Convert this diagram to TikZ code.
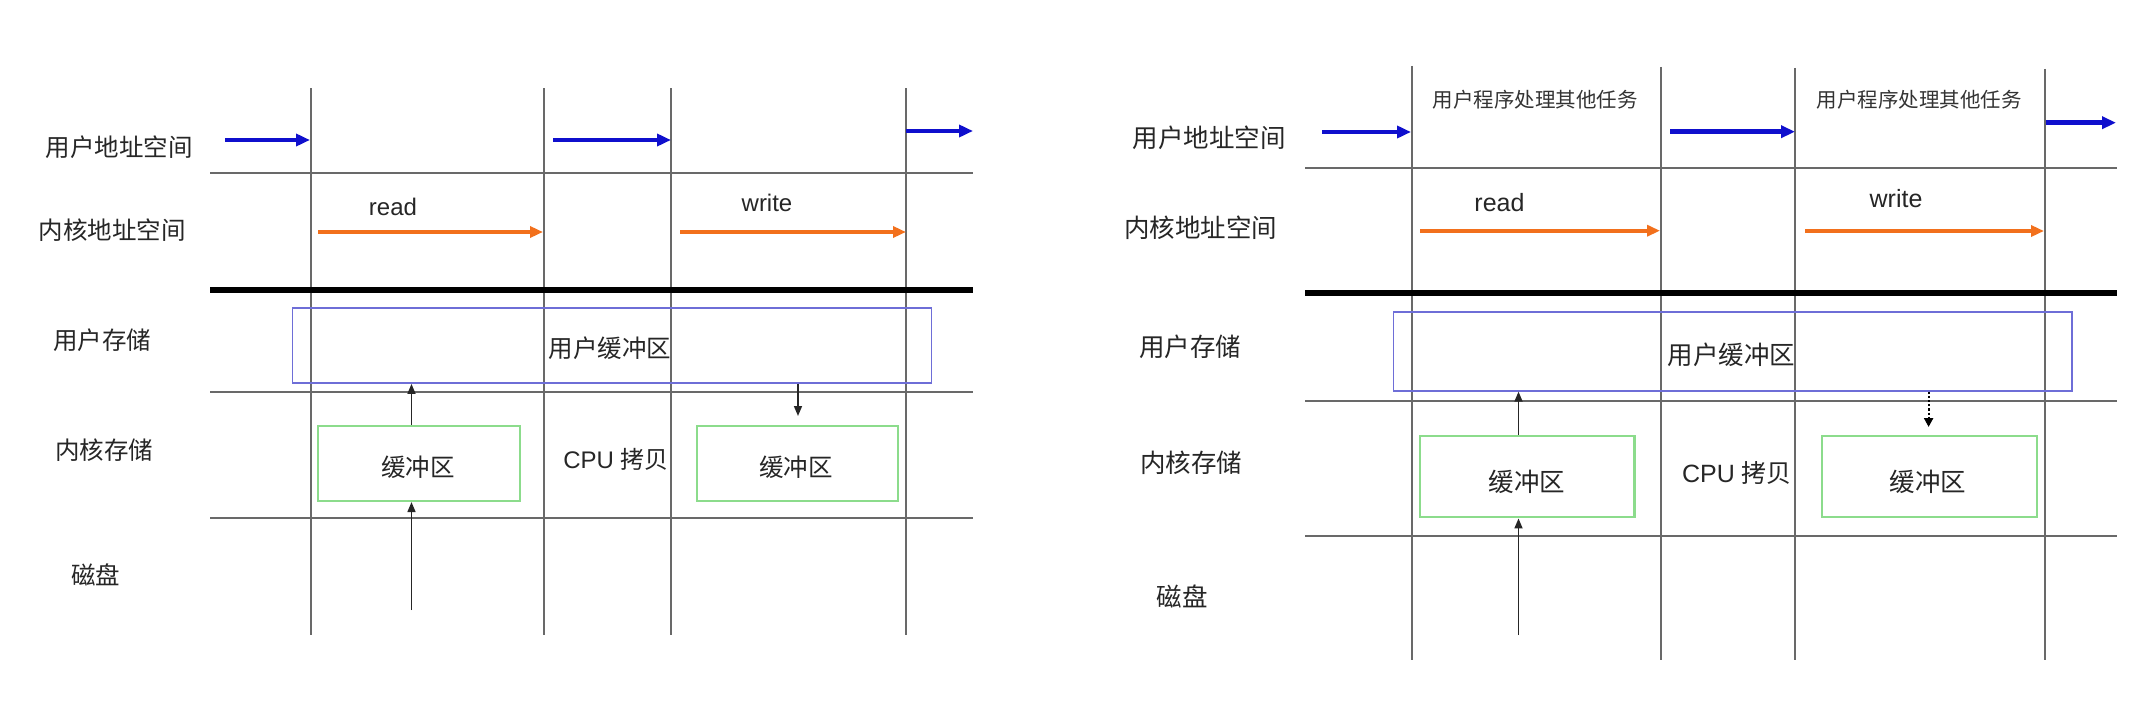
\documentclass[tikz,border=0pt]{standalone}
\usepackage{fontspec}
\setmainfont{Liberation Sans}
\newfontfamily\cjk{Noto Sans CJK SC}
\usetikzlibrary{arrows.meta}
\definecolor{gridc}{RGB}{105,105,105}
\definecolor{ublue}{RGB}{15,15,205}
\definecolor{korange}{RGB}{242,112,28}
\definecolor{boxblue}{RGB}{110,110,215}
\definecolor{boxgreen}{RGB}{140,220,140}
\begin{document}
\begin{tikzpicture}[x=1pt,y=-1pt,
  gridline/.style={draw=gridc,line width=2pt},
  kline/.style={draw=black,line width=5.5pt},
  uarrow/.style={draw=ublue,line width=4.5pt,-{Triangle[length=14pt,width=12pt]}},
  karrow/.style={draw=korange,line width=4pt,-{Triangle[length=13pt,width=11pt]}},
  smallarrow/.style={draw=black!85,line width=1.6pt,-{Triangle[length=10pt,width=8pt]}},
  dotarrow/.style={draw=black,line width=2.2pt,dotted,-{Triangle[length=9pt,width=9pt]}},
  labL/.style={font=\cjk\fontsize{24.5}{24.5}\selectfont,inner sep=0pt,text=black!85},
  labR/.style={font=\cjk\fontsize{25.5}{25.5}\selectfont,inner sep=0pt,text=black!85},
  latL/.style={font=\fontsize{24}{24}\selectfont,inner sep=0pt,text=black!85},
  latR/.style={font=\fontsize{25}{25}\selectfont,inner sep=0pt,text=black!85},
  taskR/.style={font=\cjk\fontsize{20.5}{20.5}\selectfont,inner sep=0pt,text=black!80},
  ubox/.style={draw=boxblue,line width=1.8pt,inner sep=0pt,rectangle},
  gbox/.style={draw=boxgreen,line width=2.2pt,inner sep=0pt,rectangle}
]
\fill[white] (0,0) rectangle (2150,701);
\useasboundingbox (0,0) rectangle (2150,701);

% ================= LEFT PANEL =================
% grid
\coordinate (LV1t) at (311,88);  \coordinate (LV1b) at (311,635);
\coordinate (LV2t) at (544,88);  \coordinate (LV2b) at (544,635);
\coordinate (LV3t) at (671,88);  \coordinate (LV3b) at (671,635);
\coordinate (LV4t) at (906,88);  \coordinate (LV4b) at (906,635);
\coordinate (LH1l) at (210,173); \coordinate (LH1r) at (973,173);
\coordinate (LH2l) at (210,392); \coordinate (LH2r) at (973,392);
\coordinate (LH3l) at (210,518); \coordinate (LH3r) at (973,518);
\coordinate (LKl) at (210,290);  \coordinate (LKr) at (973,290);
\draw[gridline] (LV1t) -- (LV1b);
\draw[gridline] (LV2t) -- (LV2b);
\draw[gridline] (LV3t) -- (LV3b);
\draw[gridline] (LV4t) -- (LV4b);
\draw[gridline] (LH1l) -- (LH1r);
\draw[gridline] (LH2l) -- (LH2r);
\draw[gridline] (LH3l) -- (LH3r);
\draw[kline] (LKl) -- (LKr);

% row labels
\node[labL] (Lr1) at (119,147) {用户地址空间};
\node[labL] (Lr2) at (112,230) {内核地址空间};
\node[labL] (Lr3) at (102,340) {用户存储};
\node[labL] (Lr4) at (104,450) {内核存储};
\node[labL] (Lr5) at (95.5,575) {磁盘};

% user-space arrows
\coordinate (LB1s) at (225,140); \coordinate (LB1e) at (310,140);
\coordinate (LB2s) at (553,140); \coordinate (LB2e) at (671,140);
\coordinate (LB3s) at (906,131); \coordinate (LB3e) at (973,131);
\draw[uarrow] (LB1s) -- (LB1e);
\draw[uarrow] (LB2s) -- (LB2e);
\draw[uarrow] (LB3s) -- (LB3e);

% kernel-space arrows
\coordinate (LO1s) at (318,232); \coordinate (LO1e) at (543,232);
\coordinate (LO2s) at (680,232); \coordinate (LO2e) at (906,232);
\draw[karrow] (LO1s) -- (LO1e);
\draw[karrow] (LO2s) -- (LO2e);
\node[latL] (Lread) at (393,207) {read};
\node[latL] (Lwrite) at (767,203) {write};

% boxes
\node[ubox,minimum width=639pt,minimum height=75pt] (Lub) at (612,345.5) {};
\node[labL] (Lubt) at (610,348) {用户缓冲区};
\node[gbox,minimum width=202pt,minimum height=75pt] (Lg1) at (419,463.5) {};
\node[labL] (Lg1t) at (418,467) {缓冲区};
\node[gbox,minimum width=201pt,minimum height=75pt] (Lg2) at (797.5,463.5) {};
\node[labL] (Lg2t) at (796,467) {缓冲区};
\node[latL] (Lcpu) at (616,459) {CPU {\cjk 拷贝}};

% small arrows
\coordinate (Lax) at (411.5,610);
\coordinate (Ldx) at (798,416);
\draw[smallarrow] (Lg1.north -| Lax) -- (Lub.south -| Lax);
\draw[smallarrow] (Lax) -- (Lg1.south -| Lax);
\draw[smallarrow] (Lub.south -| Ldx) -- (Ldx);

% ================= RIGHT PANEL =================
\coordinate (RV1t) at (1411.5,66); \coordinate (RV1b) at (1411.5,660);
\coordinate (RV2t) at (1661,67);   \coordinate (RV2b) at (1661,660);
\coordinate (RV3t) at (1794.5,68); \coordinate (RV3b) at (1794.5,660);
\coordinate (RV4t) at (2045,69);   \coordinate (RV4b) at (2045,660);
\coordinate (RH1l) at (1305,167.7); \coordinate (RH1r) at (2117,167.7);
\coordinate (RH2l) at (1305,401);   \coordinate (RH2r) at (2117,401);
\coordinate (RH3l) at (1305,535.7); \coordinate (RH3r) at (2117,535.7);
\coordinate (RKl) at (1305,293);    \coordinate (RKr) at (2117,293);
\draw[gridline] (RV1t) -- (RV1b);
\draw[gridline] (RV2t) -- (RV2b);
\draw[gridline] (RV3t) -- (RV3b);
\draw[gridline] (RV4t) -- (RV4b);
\draw[gridline] (RH1l) -- (RH1r);
\draw[gridline] (RH2l) -- (RH2r);
\draw[gridline] (RH3l) -- (RH3r);
\draw[kline] (RKl) -- (RKr);

% row labels
\node[labR] (Rr1) at (1209,138) {用户地址空间};
\node[labR] (Rr2) at (1200.6,228) {内核地址空间};
\node[labR] (Rr3) at (1190,346.7) {用户存储};
\node[labR] (Rr4) at (1191,463) {内核存储};
\node[labR] (Rr5) at (1182,596.7) {磁盘};

% task labels
\node[taskR] (Rt1) at (1535,100) {用户程序处理其他任务};
\node[taskR] (Rt2) at (1919,100) {用户程序处理其他任务};

% user-space arrows
\coordinate (RB1s) at (1322,132);   \coordinate (RB1e) at (1411,132);
\coordinate (RB2s) at (1670,131.7); \coordinate (RB2e) at (1795,131.7);
\coordinate (RB3s) at (2046,122.7); \coordinate (RB3e) at (2116,122.7);
\draw[uarrow] (RB1s) -- (RB1e);
\draw[uarrow] (RB2s) -- (RB2e);
\draw[uarrow] (RB3s) -- (RB3e);

% kernel-space arrows
\coordinate (RO1s) at (1420,230.7); \coordinate (RO1e) at (1660,230.7);
\coordinate (RO2s) at (1805,231);   \coordinate (RO2e) at (2044,231);
\draw[karrow] (RO1s) -- (RO1e);
\draw[karrow] (RO2s) -- (RO2e);
\node[latR] (Rread) at (1499.5,203) {read};
\node[latR] (Rwrite) at (1896,199) {write};

% boxes
\node[ubox,minimum width=678.4pt,minimum height=79pt] (Rub) at (1732.6,351.2) {};
\node[labR] (Rubt) at (1731.5,355) {用户缓冲区};
\node[gbox,minimum width=214.8pt,minimum height=81.3pt] (Rg1) at (1527,476.7) {};
\node[labR] (Rg1t) at (1527,481.7) {缓冲区};
\node[gbox,minimum width=215pt,minimum height=81.3pt] (Rg2) at (1929.2,476.7) {};
\node[labR] (Rg2t) at (1928,481.7) {缓冲区};
\node[latR] (Rcpu) at (1737,473) {CPU {\cjk 拷贝}};

% small arrows
\coordinate (Rax) at (1518.5,635);
\coordinate (Rdx) at (1928.6,427);
\draw[smallarrow] (Rg1.north -| Rax) -- (Rub.south -| Rax);
\draw[smallarrow] (Rax) -- (Rg1.south -| Rax);
\draw[dotarrow] (Rub.south -| Rdx) -- (Rdx);
\end{tikzpicture}
\end{document}
